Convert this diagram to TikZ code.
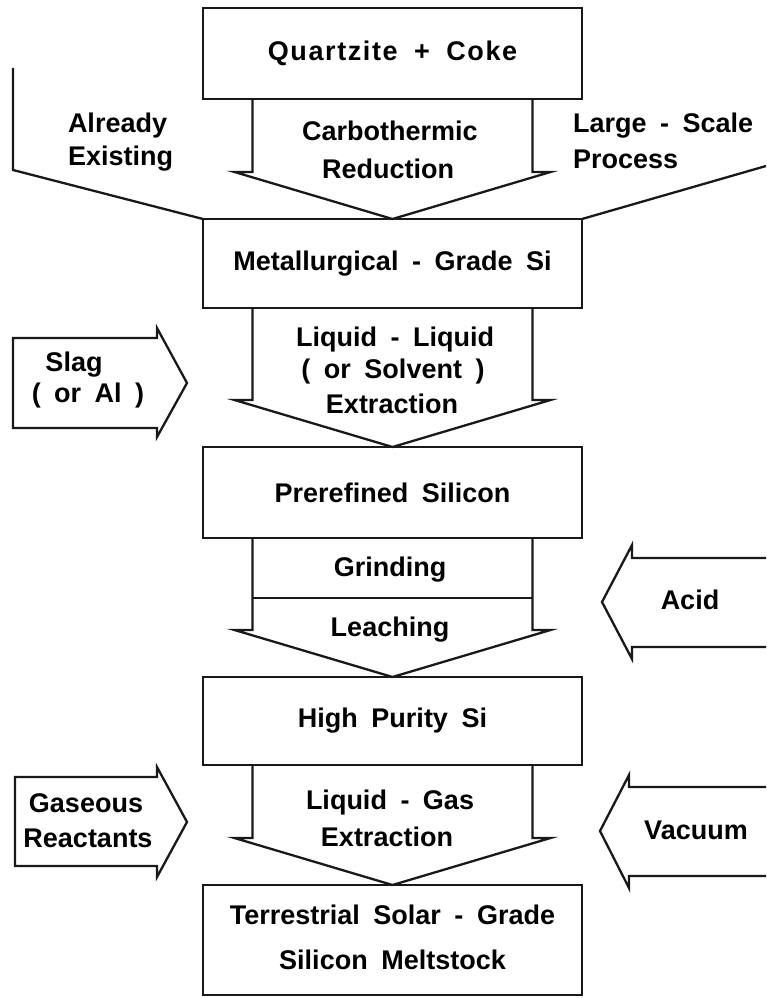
\documentclass[tikz,border=0pt]{standalone}
\usepackage{fontspec}
\setmainfont{Liberation Sans}[WordSpace=1.8]
\usetikzlibrary{calc}
\newcommand\labfont{\bfseries\fontsize{27}{33}\selectfont}
\begin{document}
\begin{tikzpicture}[x=1pt,y=-1pt,
  ln/.style={draw=black!90, line width=2.3pt, line join=miter},
  box/.style={ln, rectangle, minimum width=379pt, inner sep=0pt, outer sep=0pt, align=center, font=\labfont},
  lbl/.style={inner sep=0pt, outer sep=0pt, font=\labfont}]
\useasboundingbox (0,0) rectangle (766,998);
% process boxes
\node[box, minimum height=91pt]  (b1) at (392.5,53.5) {\addfontfeatures{LetterSpace=6}Quartzite + Coke};
\node[box, minimum height=89pt]  (b2) at (392.5,263.5) {Metallurgical - Grade Si};
\node[box, minimum height=91pt]  (b3) at (392.5,492.5) {Prerefined Silicon};
\node[box, minimum height=88pt]  (b4) at (392.5,721) {High Purity Si};
\node[box, minimum height=110pt] (b5) at (392.5,940) {\raisebox{4pt}{\begin{tabular}{@{}c@{}}Terrestrial Solar - Grade\\[12pt]Silicon Meltstock\end{tabular}}};
% block arrows between boxes
\draw[ln] ($(b1.south)+(-140,0)$) |- ($(b2.north)+(-158,-47)$) -- (b2.north) -- ($(b2.north)+(158,-47)$) -| ($(b1.south)+(140,0)$);
\draw[ln] ($(b2.south)+(-140,0)$) |- ($(b3.north)+(-158,-47)$) -- (b3.north) -- ($(b3.north)+(158,-47)$) -| ($(b2.south)+(140,0)$);
\draw[ln] ($(b3.south)+(-140,0)$) |- ($(b4.north)+(-158,-47)$) -- (b4.north) -- ($(b4.north)+(158,-47)$) -| ($(b3.south)+(140,0)$);
\draw[ln] ($(b4.south)+(-140,0)$) |- ($(b5.north)+(-158,-47)$) -- (b5.north) -- ($(b5.north)+(158,-47)$) -| ($(b4.south)+(140,0)$);
\draw[ln] ($(b3.south)+(-140,60)$) -- ($(b3.south)+(140,60)$);
% outer converging lines
\coordinate (ltop) at (13,68);
\coordinate (lbend) at (13,170);
\coordinate (rend) at (766,166);
\draw[ln] (ltop) -- (lbend) -- (b2.north west);
\draw[ln] (rend) -- (b2.north east);
% side input arrows
\draw[ln] (13,338) -- (157,338) -- (157,328) -- (187,383) -- (157,437) -- (157,428) -- (13,428) -- cycle;
\draw[ln] (15,777) -- (157,777) -- (157,767) -- (187,822) -- (157,877) -- (157,866) -- (15,866) -- cycle;
\draw[ln] (766,558) -- (632,558) -- (632,545) -- (602,602) -- (632,659) -- (632,647) -- (766,647);
\draw[ln] (766,787) -- (629,787) -- (629,775) -- (600,831) -- (629,888) -- (629,876) -- (766,876);
% labels
\node[lbl, anchor=west] (al1) at (68,126) {Already};
\node[lbl, anchor=west] (al2) at (68,159) {Existing};
\node[lbl] (cr1) at (390,131) {Carbothermic};
\node[lbl] (cr2) at (388,169) {Reduction};
\node[lbl, anchor=west] (ls1) at (573,126) {Large - Scale};
\node[lbl, anchor=west] (ls2) at (573,159) {Process};
\node[lbl] (ll1) at (395,340) {Liquid - Liquid};
\node[lbl] (ll2) at (393,372) {( or Solvent )};
\node[lbl] (ll3) at (392,404) {Extraction};
\node[lbl] (sl1) at (74,365) {Slag};
\node[lbl] (sl2) at (88,396) {( or Al )};
\node[lbl] (gr) at (390,570) {Grinding};
\node[lbl] (le) at (390,630) {Leaching};
\node[lbl] (ac) at (690,600) {Acid};
\node[lbl] (lg1) at (390,803) {Liquid - Gas};
\node[lbl] (lg2) at (387,837) {Extraction};
\node[lbl] (ga1) at (86,803) {Gaseous};
\node[lbl] (ga2) at (88,838) {Reactants};
\node[lbl] (va) at (696,830) {Vacuum};
\end{tikzpicture}
\end{document}
